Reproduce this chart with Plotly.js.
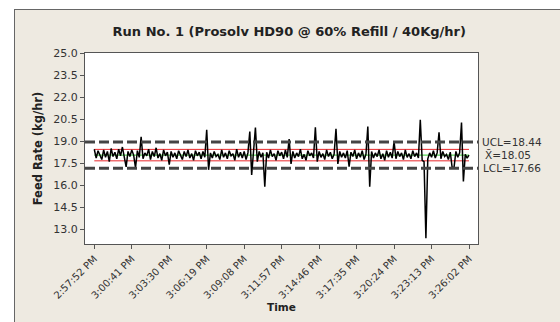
<!DOCTYPE html>
<html>
<head>
<meta charset="utf-8">
<script src="https://cdn.plot.ly/plotly-3.0.1.min.js"></script>
<style>
html,body{margin:0;padding:0;background:#fff;overflow:hidden;}
#wrap{position:relative;width:560px;height:322px;}
#frame{position:absolute;left:14px;top:9px;width:560px;height:330px;background:#eeeae1;border-left:1px solid #666;border-top:1px solid #666;}
#chart{position:absolute;left:0;top:0;width:560px;height:322px;}
</style>
</head>
<body>
<div id="wrap"><div id="frame"></div><div id="chart"></div></div>
<script>
// Tick labels (every 20 samples)
const tickLabels = ["2:57:52 PM","3:00:41 PM","3:03:30 PM","3:06:19 PM","3:09:08 PM","3:11:57 PM","3:14:46 PM","3:17:35 PM","3:20:24 PM","3:23:13 PM","3:26:02 PM"];
const samplesPerTick = 20;

// Feed rate (kg/hr)
const feedRate = [
 18.45,17.85,18.35,18.10,17.75,18.40,17.90,18.30,17.60,18.50,17.95,18.25,17.80,18.45,18.00,18.60,17.85,17.25,18.30,17.95,
 18.40,18.05,17.20,18.35,17.90,19.30,17.80,18.20,18.00,18.45,17.75,18.30,17.95,18.55,17.85,18.15,17.70,18.40,18.00,18.25,
 17.40,18.30,17.90,18.20,17.80,18.35,18.05,17.75,18.30,17.95,18.40,17.85,18.15,17.70,18.35,18.00,18.25,17.80,18.30,17.90,
 19.77,17.05,18.20,17.85,18.30,17.95,18.10,17.75,18.40,17.90,18.20,17.80,18.35,18.00,18.15,17.70,18.45,17.90,18.25,17.85,
 18.30,17.75,18.20,19.66,16.70,18.10,19.93,17.60,18.30,17.90,18.20,15.90,18.25,17.85,18.40,17.95,18.15,17.70,18.35,18.00,
 18.25,17.80,18.40,17.90,19.14,17.45,18.30,17.85,18.20,17.95,18.45,17.80,18.10,17.70,18.35,18.00,18.20,17.85,19.95,17.60,
 18.30,17.90,18.15,17.75,18.40,17.95,18.25,17.80,18.10,19.84,17.45,18.30,17.90,18.20,17.85,18.35,17.27,18.25,17.95,18.40,
 17.80,18.20,17.90,18.35,17.75,18.10,20.00,15.90,18.30,17.85,18.20,17.95,18.40,17.80,18.15,17.70,18.35,17.90,18.25,17.85,
 18.97,17.80,18.30,17.95,18.20,17.75,18.40,17.90,18.15,17.80,18.35,17.95,18.20,17.85,20.45,17.70,17.60,12.40,17.80,18.20,
 17.90,18.35,17.85,18.20,19.60,17.80,18.30,17.95,18.10,17.75,18.25,17.20,17.20,18.30,17.90,18.20,20.27,16.25,18.10,17.85,
 18.05
];

// Control limits and specification (dashed) limits
const UCL = 18.44;
const MEAN = 18.05;
const LCL = 17.66;
const upperSpec = 18.95;
const lowerSpec = 17.15;

const idx = feedRate.map((_, i) => i);
const lastIdx = feedRate.length - 1;
const tickVals = tickLabels.map((_, i) => i * samplesPerTick);

const L = 85, R = 82, T = 53, B = 78, W = 560, H = 322;
const pw = W - L - R;
const px = x => (x - L) / pw;

const font = "DejaVu Sans, Verdana, sans-serif";
const dark = "#555555";

const traces = [
  {x:[0,lastIdx], y:[UCL,UCL], mode:'lines', line:{color:'#e8282c', width:1}},
  {x:[0,lastIdx], y:[LCL,LCL], mode:'lines', line:{color:'#e8282c', width:1}},
  {x:[0,lastIdx], y:[MEAN,MEAN], mode:'lines', line:{color:'#2ecc2e', width:1}},
  {x:idx, y:feedRate, mode:'lines', line:{color:'#000000', width:1.5}}
];

const layout = {
  width: W, height: H,
  margin: {l:L, r:R, t:T, b:B, pad:0},
  paper_bgcolor: 'rgba(0,0,0,0)',
  plot_bgcolor: '#ffffff',
  showlegend: false,
  font: {family: font, size: 10, color: '#333333'},
  title: {text: 'Run No. 1 (Prosolv HD90 @ 60% Refill / 40Kg/hr)', font:{family:font, size:13, weight:'bold', color:'#222222'}, x: px(288), xanchor:'center', y: 1 - 31/H, yanchor:'middle'},
  xaxis: {
    range: [-4.96, 204.8], tickmode:'array', tickvals: tickVals, ticktext: tickLabels, tickangle: -45,
    ticks:'outside', ticklen:4, tickcolor:dark, showgrid:false, zeroline:false,
    showline:true, mirror:true, linecolor:dark, linewidth:1,
    tickfont:{family:font, size:10, color:'#333333'},
    title:{text:'Time', font:{family:font, size:10.5, weight:'bold', color:'#222222'}, standoff:0}
  },
  yaxis: {
    range: [12.0, 25.0], tick0: 13.0, dtick: 1.5, tickformat: '.1f',
    ticks:'outside', ticklen:4, tickcolor:dark, showgrid:false, zeroline:false,
    showline:true, mirror:true, linecolor:dark, linewidth:1,
    tickfont:{family:font, size:11, color:'#333333'},
    title:{text:'Feed Rate (kg/hr)', font:{family:font, size:11.5, weight:'bold', color:'#222222'}, standoff:8}
  },
  shapes: [
    {type:'line', xref:'paper', yref:'y', x0:0, x1:1, y0:upperSpec, y1:upperSpec, line:{color:'#444444', width:3, dash:'10px,4px'}},
    {type:'line', xref:'paper', yref:'y', x0:0, x1:1, y0:lowerSpec, y1:lowerSpec, line:{color:'#444444', width:3, dash:'10px,4px'}}
  ],
  annotations: [
    {text:'UCL=' + UCL.toFixed(2), xref:'paper', yref:'y', x:1, y:upperSpec, xanchor:'left', yanchor:'middle', xshift:2, showarrow:false, font:{family:font, size:10.5, color:'#333333'}},
    {text:'X\u0304=' + MEAN.toFixed(2), xref:'paper', yref:'y', x:1, y:MEAN, xanchor:'left', yanchor:'middle', xshift:5, showarrow:false, font:{family:font, size:10.5, color:'#333333'}},
    {text:'LCL=' + LCL.toFixed(2), xref:'paper', yref:'y', x:1, y:lowerSpec, xanchor:'left', yanchor:'middle', xshift:3, showarrow:false, font:{family:font, size:10.5, color:'#333333'}}
  ]
};

Plotly.newPlot('chart', traces, layout, {displayModeBar:false, staticPlot:true});
</script>
</body>
</html>
